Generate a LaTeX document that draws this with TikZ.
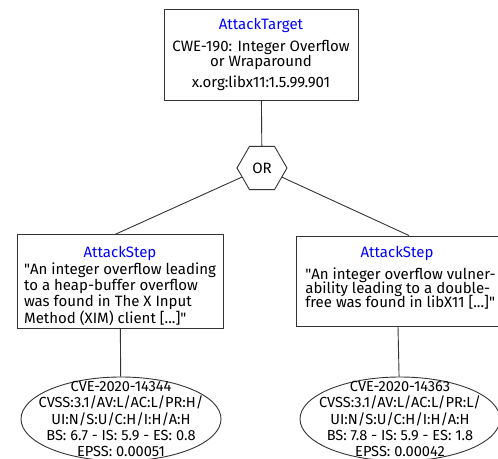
\documentclass[tikz,border=0pt]{standalone}
\usepackage{fontspec}
\setmainfont{Fira Sans}
\usetikzlibrary{shapes.geometric}

\begin{document}
\begin{tikzpicture}[x=1bp,y=1bp,
    box/.style={draw=black!80, line width=0.9bp, rectangle, inner sep=0pt},
    gate/.style={draw=black!80, line width=0.9bp, regular polygon, regular polygon sides=6,
      minimum size=50bp, inner sep=0pt},
    vuln/.style={draw=black!80, line width=0.9bp, ellipse, inner sep=0pt,
      minimum width=200bp, minimum height=84bp},
    vulntext/.style={align=center, font=\fontsize{14.6bp}{16.3bp}\selectfont}]
      \tikzstyle{every node}+=[font=\fontsize{15bp}{16bp}\selectfont]
      \useasboundingbox (0,0) rectangle (498,-459);
      \node [box, minimum width=194bp, minimum height=91bp, align=center] (target) at (261,-54.5)
        {\textcolor{blue}{AttackTarget}\\[6bp]CWE-190: Integer Overflow\\[-1bp]or Wraparound\\[5bp]x.org:libx11:1.5.99.901};
      \node [gate] (or) at (262,-168) {OR};
      \node [box, minimum width=206bp, minimum height=91bp, align=center] (step1) at (120,-281.5)
        {\mbox{}\\[7bp]\textcolor{blue}{AttackStep}\\[1bp]\begin{tabular}{@{}l@{}}
          \textquotedbl An integer overflow leading\\[-0.5bp]
          to a heap-buffer overflow\\[-0.5bp]
          was found in The X Input\\[-0.5bp]
          Method (XIM) client [...]\textquotedbl\end{tabular}};
      \node [box, minimum width=202bp, minimum height=90bp, align=center] (step2) at (397,-281)
        {\textcolor{blue}{AttackStep}\\[7bp]\hspace*{7bp}\begin{tabular}{@{}l@{}}
          \textquotedbl An integer overflow vulner-\\[-3bp]
          ability leading to a double-\\[-3bp]
          free was found in libX11 [...]\textquotedbl\end{tabular}\\[3bp]};
      \node [vuln] (cve1) at (121,-419) {};
      \node [vulntext] (cve1text) at (cve1)
        {CVE-2020-14344\\CVSS:3.1/AV:L/AC:L/PR:H/\\UI:N/S:U/C:H/I:H/A:H\\BS: 6.7 - IS: 5.9 - ES: 0.8\\EPSS: 0.00051};
      \node [vuln] (cve2) at (400,-419) {};
      \node [vulntext] (cve2text) at (cve2)
        {CVE-2020-14363\\CVSS:3.1/AV:L/AC:L/PR:L/\\UI:N/S:U/C:H/I:H/A:H\\BS: 7.8 - IS: 5.9 - ES: 1.8\\EPSS: 0.00042};
      \draw [black!80, line width=0.9bp] (target) -- (or);
      \draw [black!80, line width=0.9bp] (or) -- ([xshift=-5bp]step1.north);
      \draw [black!80, line width=0.9bp] (or) -- ([xshift=12bp]step2.north);
      \draw [black!80, line width=0.9bp] (step1) -- (cve1);
      \draw [black!80, line width=0.9bp] (step2) -- (cve2);
    \end{tikzpicture}
\end{document}
